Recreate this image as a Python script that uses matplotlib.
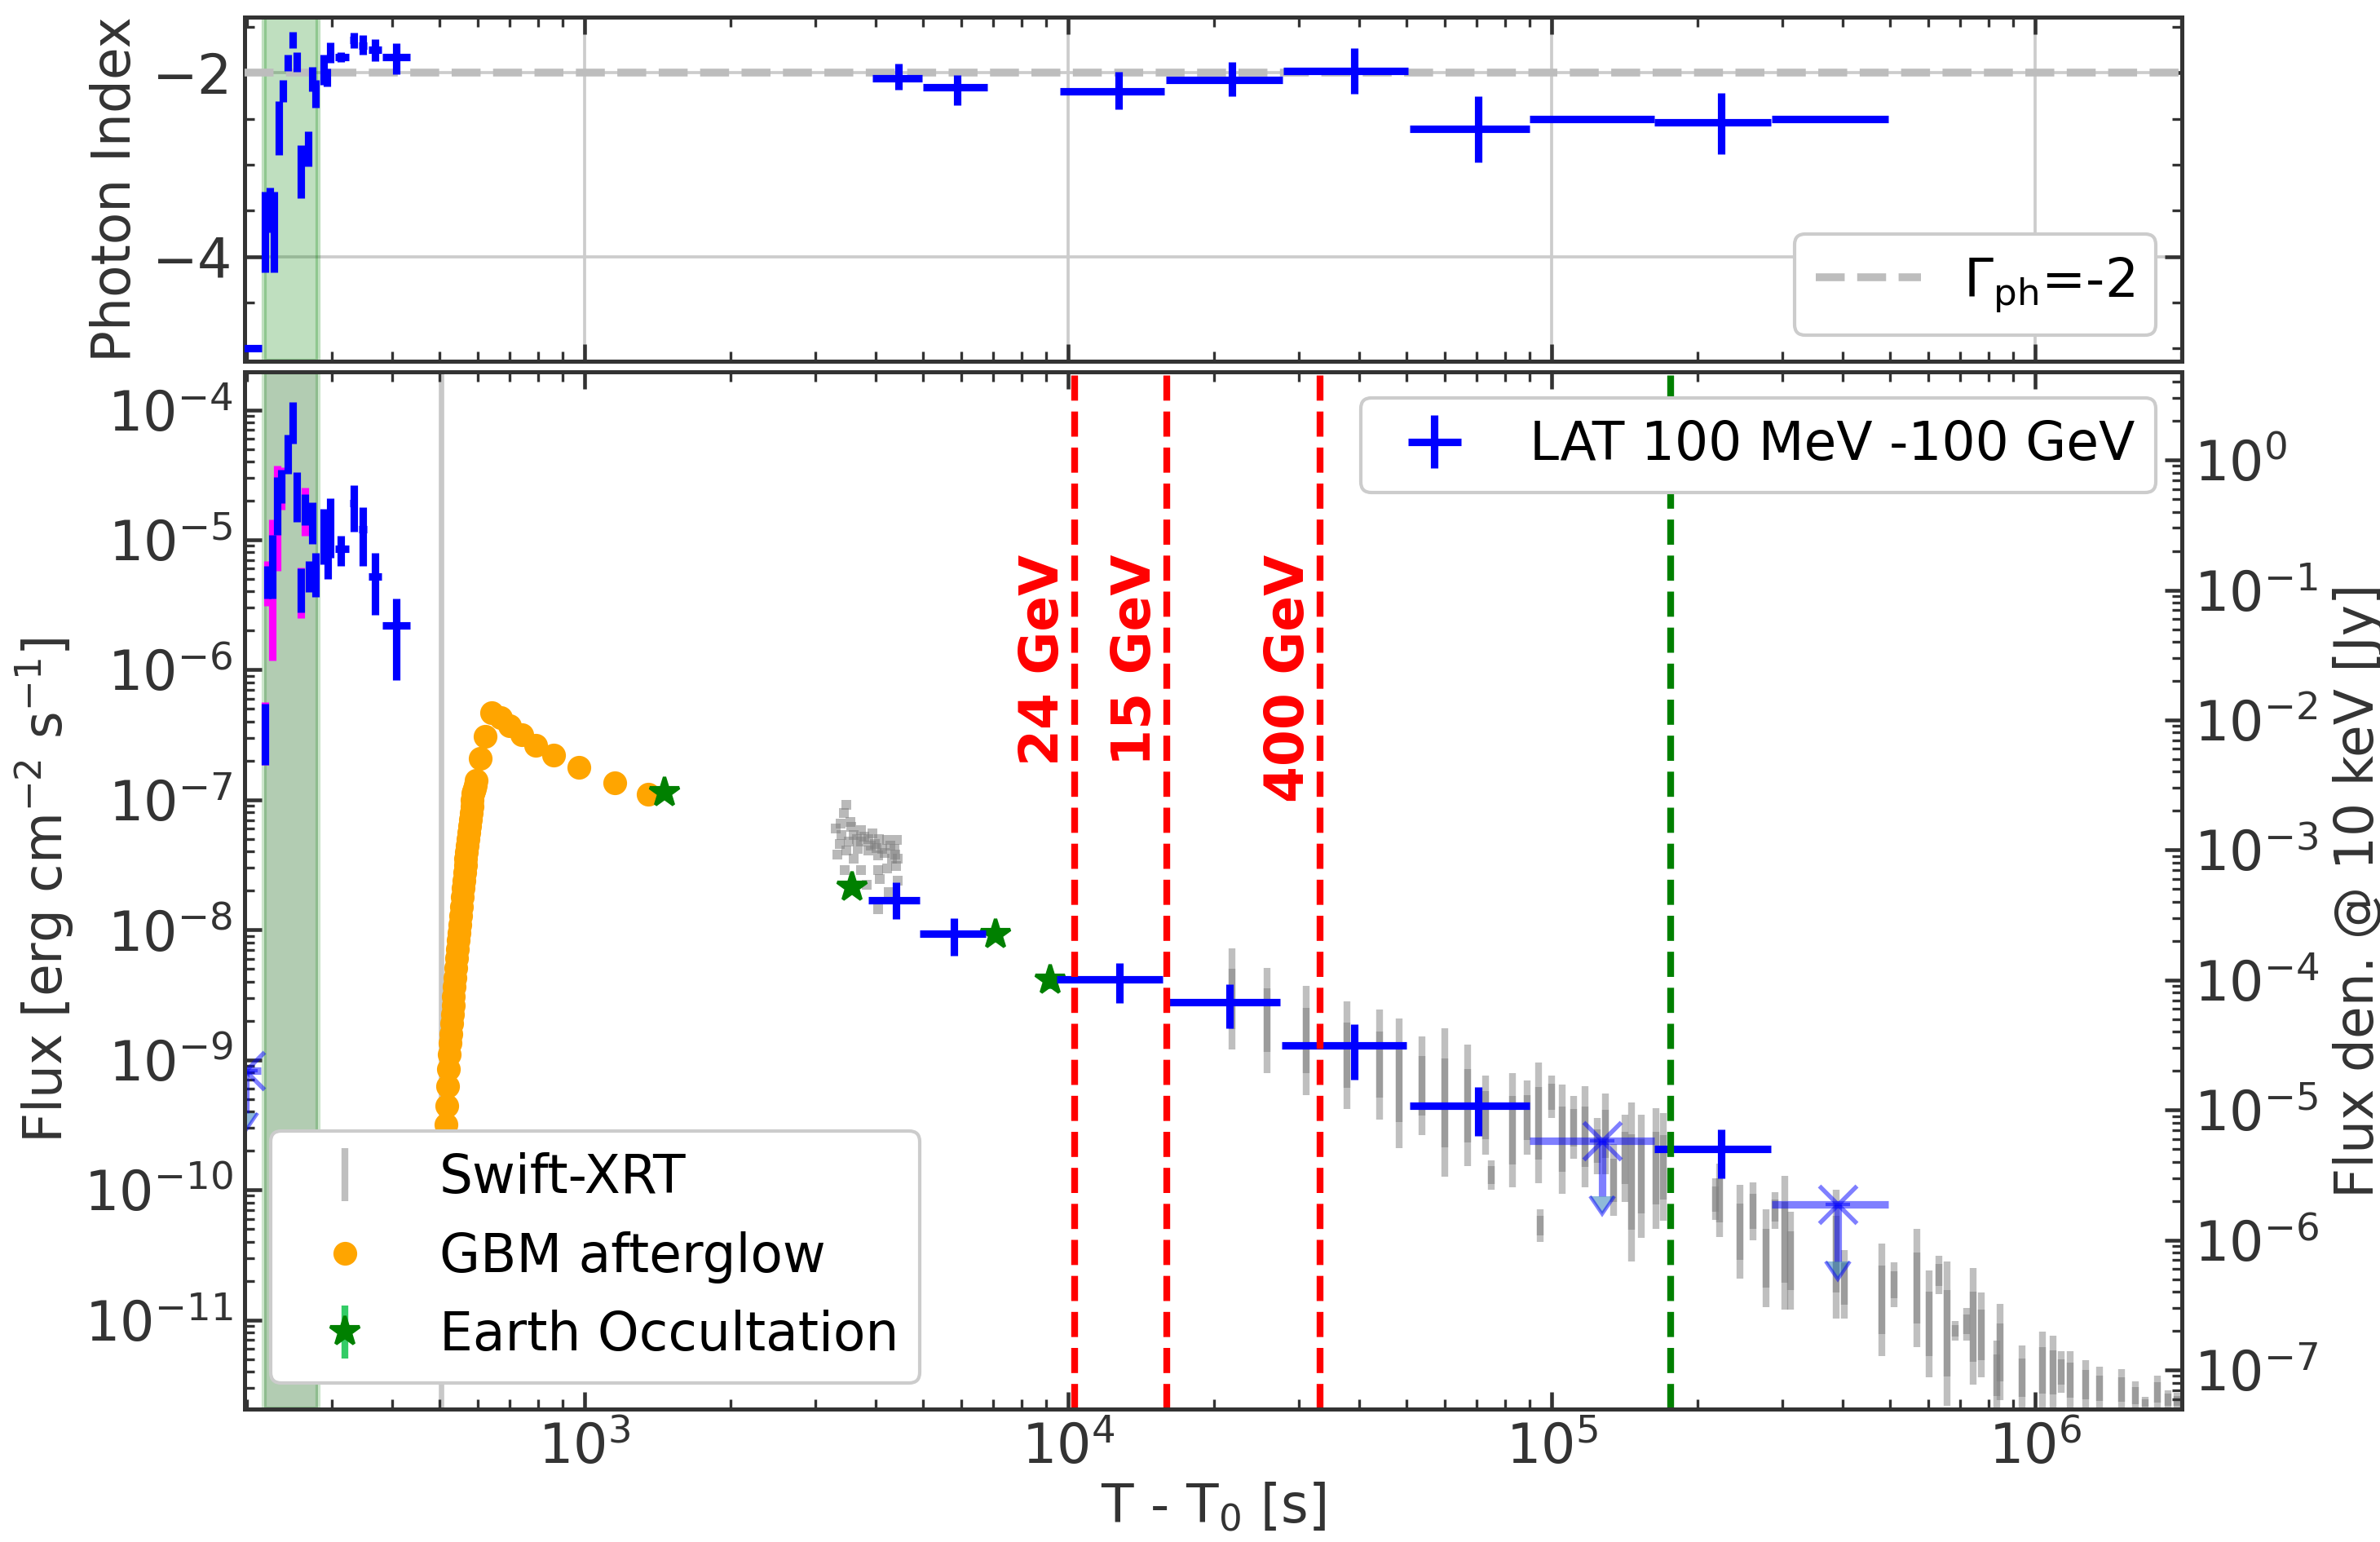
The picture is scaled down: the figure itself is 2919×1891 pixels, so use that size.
import numpy as np
import matplotlib
matplotlib.use("Agg")
import matplotlib.pyplot as plt
from matplotlib.ticker import LogLocator, MultipleLocator, NullFormatter, FixedLocator

# ---------------- data (log10 values) ----------------
# LAT photon index, top panel
pi_t = [205, 218, 223, 228, 233, 238, 243, 249, 254, 259, 268, 273, 278, 288, 293, 298,
        313, 333, 348, 368, 407,
        4460, 5890, 12700, 21800, 39000, 70500, 127000, 224000, 390000]
pi_tlo = [190, 216.5, 221.5, 226.5, 231.5, 236.5, 241.5, 247.5, 252.5, 257.5, 266.5, 271.5, 276.5, 286.5, 291.5, 296.5,
          305, 327, 341, 357, 382,
          3930, 5010, 9630, 15900, 27900, 50800, 90000, 163000, 285000]
pi_thi = [215, 219.5, 224.5, 229.5, 234.5, 239.5, 244.5, 250.5, 255.5, 260.5, 269.5, 274.5, 279.5, 289.5, 294.5, 299.5,
          325, 339, 355, 380, 435,
          4980, 6800, 15800, 27800, 50500, 90000, 163000, 284000, 496000]
pi_val = [-5.00, -3.73, -3.49, -3.73, -2.60, -2.20, -1.89, -1.64, -1.88, -3.07, -2.83, -2.07, -2.23, -1.96, -2.05, -1.78,
          -1.83, -1.64, -1.70, -1.75, -1.83,
          -2.06, -2.16, -2.20, -2.08, -1.98, -2.61, -2.50, -2.54, -2.50]
pi_hi = [-5.00, -3.29, -3.25, -3.29, -2.31, -2.08, -1.80, -1.55, -1.77, -2.79, -2.64, -1.93, -2.08, -1.80, -1.95, -1.67,
         -1.77, -1.56, -1.59, -1.63, -1.68,
         -1.90, -2.02, -1.99, -1.88, -1.73, -2.25, -2.50, -2.22, -2.50]
pi_lo = [-5.00, -4.17, -3.74, -4.17, -2.89, -2.32, -1.98, -1.73, -1.99, -3.36, -3.02, -2.20, -2.38, -2.13, -2.15, -1.89,
         -1.88, -1.73, -1.80, -1.87, -2.01,
         -2.18, -2.35, -2.40, -2.25, -2.23, -2.97, -2.50, -2.88, -2.50]

# LAT 100 MeV - 100 GeV energy flux (log10 erg cm-2 s-1)
lat_t = [218, 221, 226, 231, 236, 243, 249, 254, 259, 264, 269, 273, 278, 289, 294, 298,
         313, 333, 348, 368, 407,
         4406, 5795, 12740, 21600, 39000, 70500, 224000]
lat_tlo = [216.5, 219.5, 224.5, 229.5, 234.5, 241.5, 247.5, 252.5, 257.5, 262.5, 267.5, 271.5, 276.5, 287.5, 292.5, 296.5,
           305, 327, 341, 357, 382,
           3868, 4930, 9460, 15740, 27600, 50800, 163000]
lat_thi = [219.5, 222.5, 227.5, 232.5, 237.5, 244.5, 250.5, 255.5, 260.5, 265.5, 270.5, 274.5, 279.5, 290.5, 295.5, 299.5,
           325, 339, 355, 380, 435,
           4930, 6745, 15680, 27400, 50100, 90000, 284000]
lat_f = [-6.495, -5.325, -5.205, -4.74, -4.59, -4.34, -4.10, -4.67, -5.39, -4.77, -5.28, -4.87, -5.27, -4.975, -5.075, -4.91,
         -5.07, -4.72, -4.92, -5.28, -5.66,
         -7.773, -8.030, -8.378, -8.556, -8.886, -9.354, -9.686]
lat_fhi = [-6.26, -5.20, -4.96, -4.52, -4.46, -4.19, -3.94, -4.48, -5.22, -4.65, -5.16, -4.71, -5.10, -4.76, -4.85, -4.68,
           -4.97, -4.58, -4.75, -5.10, -5.45,
           -7.635, -7.913, -8.253, -8.420, -8.723, -9.211, -9.536]
lat_flo = [-6.73, -5.45, -5.45, -4.96, -4.72, -4.49, -4.26, -4.86, -5.56, -4.89, -5.40, -5.03, -5.44, -5.19, -5.30, -5.14,
           -5.20, -4.94, -5.20, -5.58, -6.08,
           -7.915, -8.197, -8.560, -8.754, -9.151, -9.588, -9.912]

# wider (magenta) error bars on some early bins
mag_t = [218, 221, 226, 231, 236, 259, 264]
mag_f = [-6.495, -5.325, -5.205, -4.74, -4.59, -5.39, -4.77]
mag_fhi = [-6.25, -5.16, -4.84, -4.43, -4.44, -5.21, -4.60]
mag_flo = [-6.73, -5.51, -5.93, -5.24, -4.77, -5.60, -4.97]

# LAT upper limits
ul_t = [199, 127000, 390000]
ul_tlo = [189, 90000, 285000]
ul_thi = [214, 163000, 496000]
ul_f = [-9.08, -9.62, -10.11]
ul_arrow = [0.33, 0.43, 0.44]

# GBM afterglow
gbm_t = [512, 514, 516, 518, 520, 522, 524, 526, 528, 530, 532, 534, 536, 538, 540, 542, 544, 546, 548,
         550, 552, 554, 556, 558, 560, 562, 564, 566, 568, 570, 572, 574, 576, 578, 580, 582, 584, 586,
         588, 590, 592, 594, 597, 609, 622, 643, 669, 700, 740, 792, 864, 971, 1152, 1352]
gbm_f = [-9.90, -9.65, -9.50, -9.35, -9.20, -9.07, -8.96, -8.87, -8.80, -8.72, -8.65, -8.58, -8.51, -8.44,
         -8.37, -8.29, -8.22, -8.15, -8.08, -8.02, -7.96, -7.89, -7.82, -7.75, -7.68, -7.62, -7.56, -7.50,
         -7.45, -7.40, -7.35, -7.30, -7.25, -7.20, -7.15, -7.10, -7.05, -7.00, -6.95, -6.93, -6.91, -6.89,
         -6.85, -6.68, -6.51, -6.33, -6.365, -6.43, -6.50, -6.58, -6.655, -6.75, -6.866, -6.957]

# Earth occultation
eo_t = [1465, 3566, 7080, 9190]
eo_f = [-6.947, -7.669, -8.038, -8.389]
eo_err = [0.03, 0.05, 0.06, 0.07]

# Swift-XRT: early dense cluster of points
xrt_pt_t = [3483, 3436, 3546, 3311, 3397, 3368, 3483, 3604, 3731, 3731, 3863, 3863, 4060, 4009, 4037, 4178,
            4295, 4327, 4426, 4446, 4406, 4219, 4037, 3731, 3451, 4070, 4446, 3836, 4256, 4037, 3334, 3604,
            3673, 3515, 3936, 4219, 4365, 3380, 3560, 3780, 3990, 4120, 4380, 3650, 3900]
xrt_pt_f = [-7.04, -7.10, -7.17, -7.22, -7.27, -7.34, -7.39, -7.27, -7.23, -7.32, -7.30, -7.39, -7.30, -7.37,
            -7.43, -7.41, -7.35, -7.45, -7.31, -7.45, -7.51, -7.53, -7.54, -7.54, -7.54, -7.61, -7.62, -7.65,
            -7.71, -7.84, -7.42, -7.45, -7.38, -7.32, -7.26, -7.31, -7.38, -7.18, -7.21, -7.28, -7.34, -7.38,
            -7.42, -7.30, -7.35]

# Swift-XRT: later orbits (time, top, bottom of each streak)
xrt_t = [2.18e4, 2.58e4, 3.11e4, 3.77e4, 4.40e4, 4.83e4, 5.40e4, 6.00e4, 6.70e4, 7.30e4, 7.50e4, 8.30e4,
         8.90e4, 9.40e4, 9.45e4, 1.00e5, 1.05e5, 1.11e5, 1.17e5, 1.24e5, 1.29e5, 1.34e5, 1.42e5, 1.46e5,
         1.53e5, 1.64e5, 1.70e5, 2.18e5, 2.22e5, 2.45e5, 2.61e5, 2.78e5, 2.90e5, 3.03e5, 3.12e5, 3.88e5,
         4.03e5, 4.82e5, 5.11e5, 5.68e5, 6.04e5, 6.32e5, 6.56e5, 6.82e5, 7.21e5, 7.45e5, 7.73e5, 8.32e5,
         8.45e5, 9.40e5, 1.035e6, 1.09e6, 1.13e6, 1.18e6, 1.27e6, 1.36e6, 1.51e6, 1.61e6, 1.69e6, 1.79e6,
         1.88e6, 1.96e6]
xrt_hi = [-8.14, -8.29, -8.43, -8.55, -8.61, -8.68, -8.82, -8.76, -8.88, -9.12, -9.77, -9.10,
          -9.16, -9.02, -10.15, -9.12, -9.19, -9.28, -9.20, -9.45, -9.26, -9.65, -9.42, -9.33,
          -9.42, -9.37, -9.41, -9.91, -9.80, -9.96, -9.94, -10.15, -10.02, -9.89, -10.17, -10.00,
          -10.46, -10.41, -10.56, -10.30, -10.62, -10.51, -10.55, -11.01, -10.91, -10.60, -10.79, -11.16,
          -10.88, -11.20, -11.09, -11.12, -11.24, -11.24, -11.31, -11.36, -11.38, -11.47, -11.59, -11.43,
          -11.54, -11.56]
xrt_lo = [-8.92, -9.10, -9.27, -9.38, -9.46, -9.68, -9.58, -9.90, -9.82, -9.73, -10.00, -9.98,
          -9.73, -9.95, -10.40, -9.45, -10.03, -9.76, -9.98, -9.88, -9.88, -10.20, -10.09, -10.55,
          -10.37, -10.30, -10.24, -10.23, -10.36, -10.68, -10.39, -10.90, -10.30, -10.92, -10.92, -10.99,
          -10.99, -11.28, -10.90, -11.21, -11.44, -10.80, -11.66, -11.16, -11.16, -11.50, -11.44, -11.69,
          -11.62, -11.69, -11.69, -11.69, -11.56, -11.69, -11.69, -11.69, -11.69, -11.69, -11.69, -11.69,
          -11.69, -11.69]

# reference lines
t_swift_line = 505
t_high_e = [10330, 15990, 33200]
high_e_labels = ["24 GeV", "15 GeV", "400 GeV"]
t_green_line = 1.76e5
span_t = (217, 281)
flux_to_jy = 10 ** 4.386


def lin(v):
    return 10 ** np.asarray(v, dtype=float)


plt.rcParams.update({
    "font.family": "DejaVu Sans",
    "font.size": 15.5,
    "xtick.labelsize": 16,
    "ytick.labelsize": 16,
    "axes.edgecolor": "#333333",
    "axes.linewidth": 1.2,
    "axes.labelcolor": "#333333",
    "xtick.color": "#333333",
    "ytick.color": "#333333",
    "xtick.major.size": 5, "ytick.major.size": 5,
    "xtick.minor.size": 2.8, "ytick.minor.size": 2.8,
    "xtick.major.width": 1.1, "ytick.major.width": 1.1,
    "xtick.minor.width": 0.8, "ytick.minor.width": 0.8,
    "legend.edgecolor": "#cccccc",
    "legend.framealpha": 1.0,
})

W, H = 2919, 1891
fig = plt.figure(figsize=(W / 300, H / 300), dpi=300)
ax_top = fig.add_axes([300 / W, 1 - 443 / H, 2376 / W, 422.5 / H])
ax = fig.add_axes([300 / W, 1 - 1728 / H, 2376 / W, 1272 / H], sharex=ax_top)

blue = "blue"
decades = [1e3, 1e4, 1e5, 1e6]

# ---------------- top panel: photon index ----------------
pt = np.array(pi_t, float)
pv = np.array(pi_val, float)
ax_top.axvspan(*span_t, color="green", alpha=0.25, lw=1.5, zorder=1)
ax_top.errorbar(pt, pv,
                xerr=[pt - np.array(pi_tlo), np.array(pi_thi) - pt],
                yerr=[pv - np.array(pi_lo), np.array(pi_hi) - pv],
                fmt="none", ecolor=blue, elinewidth=2.2, capsize=0, zorder=4)
ax_top.axhline(-2, color="#bdbdbd", ls="--", lw=2.3, zorder=3, label=r"$\Gamma_{\rm ph}$=-2")
ax_top.set_xscale("log")
ax_top.set_xlim(198, 2.01e6)
ax_top.set_ylim(-5.14, -1.388)
ax_top.yaxis.set_major_locator(MultipleLocator(2))
ax_top.yaxis.set_minor_locator(MultipleLocator(0.5))
ax_top.grid(True, which="major", color="#cccccc", lw=0.9, zorder=0)
ax_top.set_axisbelow(True)
ax_top.tick_params(which="both", direction="in", top=True, right=True, labelbottom=False)
ax_top.set_ylabel("Photon Index")
ax_top.yaxis.set_label_coords(-0.053, 0.5)
ax_top.legend(loc="lower right", borderaxespad=0.5)

# ---------------- bottom panel: flux light curve ----------------
ax.axvspan(*span_t, color="gray", alpha=0.25, lw=0, zorder=1)
ax.axvspan(*span_t, color="green", alpha=0.2, lw=1.5, zorder=1)
ax.axvline(t_swift_line, color="#c8c8c8", lw=1.6, zorder=1)

# Swift-XRT: each orbit drawn as a light streak with a darker, denser core
xt = np.array(xrt_t)
xhi, xlo = np.array(xrt_hi), np.array(xrt_lo)
xf = lin((xhi + xlo) / 2)
h_xrt = ax.errorbar(xt, xf, yerr=[xf - lin(xlo), lin(xhi) - xf], fmt="none",
                    ecolor="gray", alpha=0.5, elinewidth=2.0, capsize=0, zorder=2,
                    label="Swift-XRT")
core_hi = xhi - 0.2 * (xhi - xlo)
core_lo = xlo + 0.2 * (xhi - xlo)
ax.errorbar(xt, xf, yerr=[xf - lin(core_lo), lin(core_hi) - xf], fmt="none",
            ecolor="gray", alpha=0.55, elinewidth=2.0, capsize=0, zorder=2)
ax.plot(xrt_pt_t, lin(xrt_pt_f), "s", color="gray", alpha=0.55, ms=2.8, mew=0, zorder=2)

# GBM afterglow
h_gbm, = ax.plot(gbm_t, lin(gbm_f), "o", color="orange", ms=7, mew=0, ls="none",
                 zorder=3, label="GBM afterglow")

# Earth occultation
ef = lin(eo_f)
h_eo = ax.errorbar(eo_t, ef, yerr=[ef - ef / lin(eo_err), ef * lin(eo_err) - ef],
                   fmt="*", color="green", ecolor="#33cc66", elinewidth=2, ms=9,
                   capsize=0, zorder=5, label="Earth Occultation")

# LAT magenta bars, then blue detections
mt = np.array(mag_t, float)
mf = lin(mag_f)
ax.errorbar(mt, mf, yerr=[mf - lin(mag_flo), lin(mag_fhi) - mf], fmt="none",
            ecolor="magenta", elinewidth=2.2, capsize=0, zorder=4)
lt = np.array(lat_t, float)
lf = lin(lat_f)
h_lat = ax.errorbar(lt, lf, xerr=[lt - np.array(lat_tlo), np.array(lat_thi) - lt],
                    yerr=[lf - lin(lat_flo), lin(lat_fhi) - lf], fmt="none",
                    ecolor=blue, elinewidth=2.2, capsize=0, zorder=6,
                    label="LAT 100 MeV -100 GeV")

# LAT upper limits
ut = np.array(ul_t, float)
uf = lin(ul_f)
ax.errorbar(ut, uf, xerr=[ut - np.array(ul_tlo), np.array(ul_thi) - ut],
            fmt="x", color=blue, ms=11, mew=1.3, elinewidth=2.2, capsize=0,
            alpha=0.5, zorder=6)
ax.errorbar(ut, uf, yerr=uf - uf / lin(ul_arrow), uplims=True, fmt="none",
            ecolor=blue, elinewidth=2.2, capsize=3.5, alpha=0.5, zorder=6)

# high-energy photon times and other marker line
for t_e, lab in zip(t_high_e, high_e_labels):
    ax.axvline(t_e, color="red", ls="--", lw=2, zorder=8)
    ax.text(t_e / 1.025, 7.7e-6, lab, rotation=90, color="red", fontweight="bold",
            ha="right", va="top", zorder=8)
ax.axvline(t_green_line, color="green", ls="--", lw=2, zorder=8)

ax.set_xscale("log")
ax.set_yscale("log")
ax.set_xlim(198, 2.01e6)
ylim = (2.06e-12, 1.96e-4)
ax.set_ylim(*ylim)
ax.yaxis.set_major_locator(LogLocator(base=10, numticks=20))
ax.yaxis.set_minor_locator(LogLocator(base=10, subs=np.arange(2, 10), numticks=20))
ax.yaxis.set_minor_formatter(NullFormatter())
ax.xaxis.set_major_locator(FixedLocator(decades))
ax.xaxis.set_minor_locator(LogLocator(base=10, subs=np.arange(2, 10), numticks=20))
ax.xaxis.set_minor_formatter(NullFormatter())
ax.tick_params(which="both", direction="in", top=True, right=False)
ax.set_xlabel(r"T - T$_0$ [s]", labelpad=2)
ax.set_ylabel(r"Flux [erg cm$^{-2}$ s$^{-1}$]")
ax.yaxis.set_label_coords(-0.087, 0.5)

leg1 = ax.legend([h_xrt, h_gbm, h_eo], ["Swift-XRT", "GBM afterglow", "Earth Occultation"],
                 loc="lower left", borderaxespad=0.5)
leg1.set_zorder(20)
ax.add_artist(leg1)
leg2 = ax.legend([h_lat], ["LAT 100 MeV -100 GeV"], loc="upper right", borderaxespad=0.5)
leg2.set_zorder(20)

# flux density axis
ax2 = ax.twinx()
ax2.set_yscale("log")
ax2.set_ylim(ylim[0] * flux_to_jy, ylim[1] * flux_to_jy)
ax2.yaxis.set_major_locator(LogLocator(base=10, numticks=20))
ax2.yaxis.set_minor_locator(LogLocator(base=10, subs=np.arange(2, 10), numticks=20))
ax2.yaxis.set_minor_formatter(NullFormatter())
ax2.tick_params(which="both", direction="in")
ax2.set_ylabel("Flux den. @ 10 keV [Jy]")

fig.savefig("out.png", dpi=300)
